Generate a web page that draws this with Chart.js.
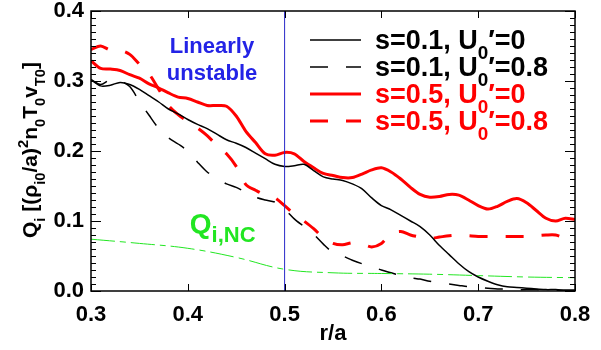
<!DOCTYPE html>
<html>
<head>
<meta charset="utf-8">
<script src="https://cdn.jsdelivr.net/npm/chart.js@4.4.0/dist/chart.umd.min.js"></script>
<style>
    html, body { margin: 0; padding: 0; background: #fff; }
    #wrap { width: 601px; height: 350px; }
</style>
</head>
<body>
<div id="wrap"><canvas id="fluxChart"></canvas></div>
<script>
// r/a grid shared by the four turbulent flux curves
var rGrid = [0.30, 0.31, 0.32, 0.33, 0.34, 0.35, 0.36, 0.37, 0.38, 0.39,
             0.40, 0.41, 0.42, 0.43, 0.44, 0.45, 0.46, 0.47, 0.48, 0.49,
             0.50, 0.51, 0.52, 0.53, 0.54, 0.55, 0.56, 0.57, 0.58, 0.59,
             0.60, 0.61, 0.62, 0.63, 0.64, 0.65, 0.66, 0.67, 0.68, 0.69,
             0.70, 0.71, 0.72, 0.73, 0.74, 0.75, 0.76, 0.77, 0.78, 0.79, 0.80];

// s=0.1, U0'=0 (black solid)
var fluxS01U0 = [0.302, 0.293, 0.294, 0.298, 0.295, 0.288, 0.279, 0.270, 0.260, 0.253,
                 0.245, 0.238, 0.232, 0.224, 0.216, 0.211, 0.205, 0.197, 0.189, 0.181,
                 0.178, 0.179, 0.181, 0.172, 0.163, 0.160, 0.158, 0.153, 0.146, 0.133,
                 0.122, 0.116, 0.108, 0.100, 0.092, 0.080, 0.065, 0.052, 0.039, 0.028,
                 0.020, 0.014, 0.009, 0.006, 0.005, 0.004, 0.003, 0.002, 0.002, 0.001, 0.001];

// s=0.1, U0'=0.8 (black dashed)
var fluxS01U08 = [0.302, 0.295, 0.302, 0.300, 0.292, 0.271, 0.251, 0.232, 0.219, 0.210,
                  0.200, 0.184, 0.170, 0.161, 0.153, 0.148, 0.141, 0.134, 0.130, 0.127,
                  0.117, 0.103, 0.092, 0.081, 0.067, 0.055, 0.050, 0.044, 0.039, 0.035,
                  0.030, 0.026, 0.022, 0.019, 0.017, 0.014, 0.012, 0.010, 0.008, 0.006,
                  0.005, 0.004, 0.003, 0.003, 0.002, 0.002, 0.002, 0.001, 0.001, 0.001, 0.001];

// s=0.5, U0'=0 (red solid)
var fluxS05U0 = [0.329, 0.318, 0.317, 0.315, 0.309, 0.304, 0.296, 0.290, 0.283, 0.277,
                 0.275, 0.270, 0.265, 0.265, 0.264, 0.250, 0.228, 0.212, 0.196, 0.194,
                 0.198, 0.196, 0.185, 0.176, 0.168, 0.165, 0.162, 0.162, 0.167, 0.173,
                 0.176, 0.170, 0.160, 0.148, 0.138, 0.134, 0.135, 0.138, 0.137, 0.130,
                 0.122, 0.117, 0.121, 0.128, 0.132, 0.126, 0.115, 0.104, 0.100, 0.104, 0.102];

// s=0.5, U0'=0.8 (red dashed)
var fluxS05U08 = [0.345, 0.350, 0.344, 0.344, 0.338, 0.324, 0.310, 0.288, 0.265, 0.252,
                  0.242, 0.233, 0.222, 0.208, 0.196, 0.178, 0.152, 0.144, 0.137, 0.133,
                  0.122, 0.110, 0.100, 0.089, 0.076, 0.068, 0.066, 0.069, 0.067, 0.063,
                  0.068, 0.082, 0.085, 0.080, 0.077, 0.075, 0.077, 0.079, 0.080, 0.079,
                  0.078, 0.078, 0.078, 0.078, 0.078, 0.078, 0.079, 0.080, 0.080, 0.075, 0.070];

// neoclassical flux Q_i,NC (green dash-dot)
var rNC = [0.30, 0.35, 0.40, 0.45, 0.50, 0.55, 0.60, 0.65, 0.70, 0.75, 0.80];
var fluxNC = [0.074, 0.068, 0.061, 0.048, 0.031, 0.026, 0.025, 0.024, 0.022, 0.020, 0.019];

// boundary of the linearly unstable region
var rUnstable = 0.5;

var xTicks = [0.3, 0.4, 0.5, 0.6, 0.7, 0.8];
var yTicks = [0.0, 0.1, 0.2, 0.3, 0.4];

var FONT = '"Liberation Sans", Arial, Helvetica, sans-serif';

function toPoints(xs, ys) {
    return xs.map(function (x, i) { return { x: x, y: ys[i] }; });
}

// text pieces with sub/superscripts, drawn along one baseline
function richWidth(ctx, parts, size) {
    var w = 0;
    parts.forEach(function (p) {
        var s = p.k === 'n' ? size : size * 0.7;
        ctx.font = 'bold ' + s + 'px ' + FONT;
        w += ctx.measureText(p.t).width;
    });
    return w;
}

function richDraw(ctx, parts, x, y, size) {
    parts.forEach(function (p) {
        var s = p.k === 'n' ? size : size * 0.7;
        var dy = p.k === 'sub' ? size * 0.36 : (p.k === 'sup' ? -size * 0.42 : 0);
        ctx.font = 'bold ' + s + 'px ' + FONT;
        ctx.fillText(p.t, x, y + dy);
        x += ctx.measureText(p.t).width;
    });
}

var yLabelParts = [
    { t: 'Q', k: 'n' }, { t: 'i', k: 'sub' }, { t: ' [(', k: 'n' }, { t: 'ρ', k: 'n' },
    { t: 'i0', k: 'sub' }, { t: '/a)', k: 'n' }, { t: '2', k: 'sup' }, { t: 'n', k: 'n' },
    { t: '0', k: 'sub' }, { t: 'T', k: 'n' }, { t: '0', k: 'sub' }, { t: 'v', k: 'n' },
    { t: 'T0', k: 'sub' }, { t: ']', k: 'n' }
];

// Frame, inward ticks, legend and annotations
var decorPlugin = {
    id: 'decor',
    afterDatasetsDraw: function (chart) {
        var ctx = chart.ctx;
        var a = chart.chartArea;
        var xs = chart.scales.x;
        var ys = chart.scales.y;
        ctx.save();

        // box
        ctx.strokeStyle = '#000';
        ctx.lineWidth = 1.5;
        ctx.setLineDash([]);
        ctx.strokeRect(a.left, a.top, a.right - a.left, a.bottom - a.top);

        // ticks
        ctx.lineWidth = 1;
        ctx.beginPath();
        xTicks.forEach(function (v) {
            var px = Math.round(xs.getPixelForValue(v)) + 0.5;
            ctx.moveTo(px, a.bottom); ctx.lineTo(px, a.bottom - 7);
            ctx.moveTo(px, a.top); ctx.lineTo(px, a.top + 7);
        });
        for (var i = 0; i <= 40; i++) {
            var len = (i % 10 === 0) ? 10 : 5;
            var py = Math.round(ys.getPixelForValue(i / 100)) + 0.5;
            ctx.moveTo(a.left, py); ctx.lineTo(a.left + len, py);
            ctx.moveTo(a.right, py); ctx.lineTo(a.right - len, py);
        }
        ctx.stroke();

        // y axis title, rotated
        ctx.fillStyle = '#000';
        ctx.textBaseline = 'alphabetic';
        ctx.textAlign = 'left';
        var ySize = 21;
        var w = richWidth(ctx, yLabelParts, ySize);
        ctx.save();
        ctx.translate(37, 150);
        ctx.rotate(-Math.PI / 2);
        richDraw(ctx, yLabelParts, -w / 2, 0, ySize);
        ctx.restore();

        // legend
        var sets = chart.data.datasets.filter(function (d) { return d.legendText; });
        sets.forEach(function (d, k) {
            var cy = 40 + k * 27;
            ctx.strokeStyle = d.borderColor;
            ctx.lineWidth = d.borderWidth;
            ctx.setLineDash(d.borderDash || []);
            ctx.beginPath();
            ctx.moveTo(310, cy); ctx.lineTo(361, cy);
            ctx.stroke();
            ctx.setLineDash([]);
            ctx.fillStyle = d.borderColor;
            richDraw(ctx, [
                { t: d.legendText[0], k: 'n' }, { t: '0', k: 'sub' }, { t: d.legendText[1], k: 'n' }
            ], 375, cy + 9, 27);
        });

        // "Linearly unstable"
        ctx.fillStyle = '#2323e6';
        ctx.textAlign = 'center';
        ctx.textBaseline = 'alphabetic';
        ctx.font = 'bold 22px ' + FONT;
        var lx = xs.getPixelForValue(0.425);
        ctx.fillText('Linearly', lx, ys.getPixelForValue(0.3405));
        ctx.fillText('unstable', lx, ys.getPixelForValue(0.302));

        // Q_i,NC label
        ctx.fillStyle = '#22e622';
        ctx.textAlign = 'left';
        var qx = xs.getPixelForValue(0.402);
        var qy = ys.getPixelForValue(0.083);
        ctx.font = 'bold 28px ' + FONT;
        ctx.fillText('Q', qx, qy);
        var qw = ctx.measureText('Q').width;
        ctx.font = 'bold 22px ' + FONT;
        ctx.fillText('i,NC', qx + qw, qy + 9);

        ctx.restore();
    }
};

Chart.defaults.font.family = FONT;
Chart.defaults.font.weight = 'bold';
Chart.defaults.color = '#000';

var ctx = document.getElementById('fluxChart').getContext('2d');
var fluxChart = new Chart(ctx, {
    type: 'line',
    data: {
        datasets: [
            {
                data: toPoints([rUnstable, rUnstable], [0, 0.4]),
                borderColor: '#2828c8', borderWidth: 1, tension: 0
            },
            {
                data: toPoints(rNC, fluxNC),
                borderColor: '#22e622', borderWidth: 1, borderDash: [24, 5, 6, 5], tension: 0.4
            },
            {
                legendText: ['s=0.1, U', '′=0'],
                data: toPoints(rGrid, fluxS01U0),
                borderColor: '#000000', borderWidth: 1.5
            },
            {
                legendText: ['s=0.1, U', '′=0.8'],
                data: toPoints(rGrid, fluxS01U08),
                borderColor: '#000000', borderWidth: 1.5, borderDash: [18, 18]
            },
            {
                legendText: ['s=0.5, U', '′=0'],
                data: toPoints(rGrid, fluxS05U0),
                borderColor: '#ff0000', borderWidth: 3
            },
            {
                legendText: ['s=0.5, U', '′=0.8'],
                data: toPoints(rGrid, fluxS05U08),
                borderColor: '#ff0000', borderWidth: 3, borderDash: [18, 18]
            }
        ]
    },
    options: {
        responsive: true,
        maintainAspectRatio: false,
        animation: false,
        layout: { padding: { top: 11, right: 26, left: 0, bottom: 0 } },
        elements: {
            point: { radius: 0 },
            line: { tension: 0.3, fill: false }
        },
        plugins: {
            legend: { display: false },
            tooltip: { enabled: false }
        },
        scales: {
            x: {
                type: 'linear',
                min: 0.3,
                max: 0.8,
                grid: { display: false, drawTicks: false },
                border: { display: false },
                afterBuildTicks: function (s) {
                    s.ticks = xTicks.map(function (v) { return { value: v }; });
                },
                afterFit: function (s) {
                    s.height = 59;
                    s.paddingLeft = s.paddingRight = 0;
                },
                ticks: {
                    padding: 11,
                    autoSkip: false,
                    maxRotation: 0,
                    font: { size: 22, weight: 'bold' },
                    callback: function (v) { return Number(v).toFixed(1); }
                },
                title: {
                    display: true,
                    text: 'r/a',
                    font: { size: 22, weight: 'bold' },
                    padding: { top: 0, bottom: 3 }
                }
            },
            y: {
                type: 'linear',
                min: 0,
                max: 0.4,
                grid: { display: false, drawTicks: false },
                border: { display: false },
                afterBuildTicks: function (s) {
                    s.ticks = yTicks.map(function (v) { return { value: v }; });
                },
                afterFit: function (s) {
                    s.width = 91;
                    s.paddingTop = s.paddingBottom = 0;
                },
                ticks: {
                    padding: 7,
                    autoSkip: false,
                    font: { size: 22, weight: 'bold' },
                    callback: function (v) { return Number(v).toFixed(1); }
                }
            }
        }
    },
    plugins: [decorPlugin]
});
</script>
</body>
</html>
